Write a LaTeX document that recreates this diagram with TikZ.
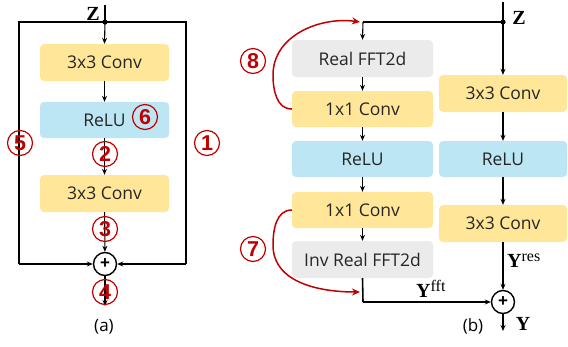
\documentclass[tikz,border=0pt]{standalone}
\usepackage{fontspec}
\setmainfont{Liberation Serif}
\newfontfamily\boxfont{Open Sans}
\newfontfamily\numfont{Liberation Sans}
\usetikzlibrary{arrows.meta}
\definecolor{cyel}{HTML}{FFE699}
\definecolor{cblu}{HTML}{BDE6F4}
\definecolor{cgry}{HTML}{EBEBEB}
\definecolor{cred}{HTML}{C00000}
\newcommand{\supx}[1]{\raisebox{6pt}{\mdseries\fontsize{16}{16}\selectfont #1}}
\begin{document}
\begin{tikzpicture}[x=1pt,y=-1pt,
  blk/.style={rounded corners=4pt,minimum height=37pt,inner sep=0pt,font=\boxfont\fontsize{17.5}{19}\selectfont,text=black!85},
  yel/.style={blk,fill=cyel},
  blu/.style={blk,fill=cblu},
  gry/.style={blk,fill=cgry},
  arr/.style={-{Stealth[length=6pt,width=5pt]},line width=1.1pt},
  ln/.style={line width=1.6pt},
  plus/.style={circle,draw,line width=1.4pt,minimum size=23pt,inner sep=0pt,font=\numfont\bfseries\fontsize{17}{17}\selectfont},
  num/.style={circle,draw=cred,line width=1.2pt,minimum size=25pt,inner sep=0pt,text=cred,font=\numfont\bfseries\fontsize{21.5}{21.5}\selectfont},
  lbl/.style={font=\fontsize{20}{20}\selectfont\bfseries,inner sep=0pt},
  captxt/.style={font=\boxfont\fontsize{17}{18}\selectfont,inner sep=0pt},
  redarr/.style={-{Stealth[length=8pt,width=7pt]},line width=1.5pt,draw=cred}
]
\useasboundingbox (0,0) rectangle (568,346);
% ---------- panel (a)
\coordinate (za) at (105,5);
\coordinate (da) at (105,22);
\node[lbl] (Za) at (93,14) {Z};
\node[yel,minimum width=129pt] (a1) at (104.5,62.5) {3x3 Conv};
\node[blu,minimum width=129pt,minimum height=36pt] (a2) at (104.5,120) {ReLU};
\node[yel,minimum width=129pt,minimum height=37pt] (a3) at (104.5,193.5) {3x3 Conv};
\node[plus] (pa) at (105,264) {+};
\coordinate (oa) at (105,306);
\node[captxt] (capa) at (104,327) {(a)};
\draw[ln] (za) -- (da);
\fill (da) circle (2.6pt);
\draw[arr] (da) -- (a1.north);
\draw[arr] (a1) -- (a2);
\draw[arr] (a2) -- (a3);
\draw[arr] (a3) -- (pa);
\draw[arr] (pa) -- (oa);
\draw[ln] (da) -- (19,22) -- (19,264);
\draw[arr,line width=1.6pt] (19,264) -- (pa.west);
\draw[ln] (da) -- (186,22) -- (186,264);
\draw[arr,line width=1.6pt] (186,264) -- (pa.east);
\node[num] (n1) at (207,143) {1};
\node[num] (n2) at (105,154) {2};
\node[num] (n3) at (105,229) {3};
\node[num] (n4) at (105,292) {4};
\node[num] (n5) at (20,143) {5};
\node[num] (n6) at (145,117) {6};
% ---------- panel (b)
\coordinate (zb) at (503,2);
\coordinate (db) at (503,22);
\coordinate (tl) at (363,22);
\node[lbl] (Zb) at (519,18) {Z};
\node[gry,minimum width=141pt] (f1) at (362.5,58.5) {Real FFT2d};
\node[yel,minimum width=141pt,minimum height=36pt] (c1) at (362.5,109) {1x1 Conv};
\node[blu,minimum width=141pt,minimum height=36pt] (r1) at (362.5,159) {ReLU};
\node[yel,minimum width=141pt,minimum height=36pt] (c2) at (362.5,210) {1x1 Conv};
\node[gry,minimum width=141pt] (f2) at (362.5,259.5) {Inv Real FFT2d};
\node[yel,minimum width=128pt] (d1) at (503,93.5) {3x3 Conv};
\node[blu,minimum width=128pt,minimum height=36pt] (d2) at (503,159) {ReLU};
\node[yel,minimum width=128pt] (d3) at (503,223.5) {3x3 Conv};
\node[plus] (pb) at (503,302) {+};
\coordinate (bl) at (363,302);
\coordinate (ob) at (503,331);
\node[lbl,anchor=base west] (yres) at (507,267) {Y\supx{res}};
\node[lbl,anchor=base west] (yfft) at (416,297) {Y\supx{fft}};
\node[lbl] (yb) at (523,324) {Y};
\node[captxt] (capb) at (473,326) {(b)};
\draw[ln] (zb) -- (db);
\fill (db) circle (2.6pt);
\draw[ln] (db) -- (tl);
\draw[arr] (tl) -- (f1.north);
\draw[arr] (f1) -- (c1);
\draw[arr] (c1) -- (r1);
\draw[arr] (r1) -- (c2);
\draw[arr] (c2) -- (f2);
\draw[ln] (f2.south) -- (bl);
\draw[arr,line width=1.6pt] (bl) -- (pb.west);
\draw[arr] (db) -- (d1.north);
\draw[arr] (d1) -- (d2);
\draw[arr] (d2) -- (d3);
\draw[arr] (d3) -- (pb);
\draw[arr] (pb) -- (ob);
% red curves
\coordinate (e8) at (360,22);
\coordinate (e7) at (360,292);
\draw[redarr] (c1.west) to[out=180,in=-90] (273,75) to[out=90,in=172] (e8);
\draw[redarr] (c2.west) to[out=180,in=90] (273,245) to[out=-90,in=180] (e7);
\node[num] (n8) at (253,61) {8};
\node[num] (n7) at (253,249) {7};
\end{tikzpicture}
\end{document}
